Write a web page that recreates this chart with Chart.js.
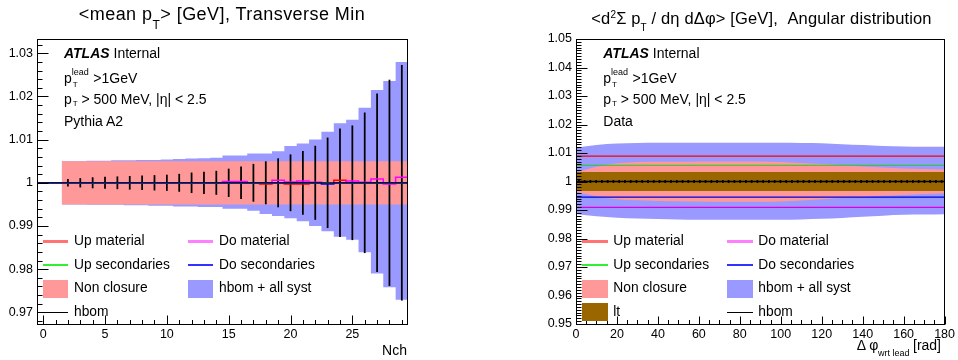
<!DOCTYPE html>
<html>
<head>
<meta charset="utf-8">
<script src="https://cdn.jsdelivr.net/npm/chart.js@4.4.1/dist/chart.umd.min.js"></script>
<style>
  body { margin: 0; background: #fff; }
  #wrap { position: relative; width: 958px; height: 360px; overflow: hidden; background: #fff;
          font-family: 'Liberation Sans', Arial, Helvetica, sans-serif; color: #000; }
  canvas { position: absolute; top: 0; }
  .t { position: absolute; white-space: pre; }
  .sw { position: absolute; }
</style>
</head>
<body>
<div id="wrap">
  <canvas id="c1" width="479" height="360" style="left:0"></canvas>
  <canvas id="c2" width="479" height="360" style="left:479px"></canvas>
</div>
<script>
// ================= DATA: left panel  <mean pT>, Transverse Min (ratio) =================
const nchBins = [0,1,2,3,4,5,6,7,8,9,10,11,12,13,14,15,16,17,18,19,20,21,22,23,24,25,26,27,28,29];
const hbomL = [1,1,1,1,1,1,1,1,1,1,1,1,1,1,1,1,1,1,1,1,1,1,1,1,1,1,1,1,1,1];
const hbomErrL = [null,null,0.0008,0.0010,0.0012,0.0013,0.0014,0.0015,0.0016,0.0017,0.0018,0.0020,0.0023,0.0025,0.0027,
                  0.0032,0.0037,0.0043,0.0049,0.0056,0.0065,0.0073,0.0085,0.0104,0.0125,0.0132,0.0162,0.0206,0.0238,0.0272];
const allSystHiL = [null,null,1.0050,1.0050,1.0051,1.0051,1.0052,1.0052,1.0053,1.0053,1.0054,1.0055,1.0056,1.0057,1.0058,
                    1.0063,1.0063,1.0068,1.0068,1.0073,1.0085,1.0091,1.0100,1.0118,1.0138,1.0146,1.0174,1.0215,1.0236,1.0280];
const allSystLoL = [null,null,0.9950,0.9950,0.9949,0.9949,0.9949,0.9948,0.9948,0.9947,0.9947,0.9945,0.9945,0.9944,0.9944,
                    0.9940,0.9940,0.9935,0.9928,0.9923,0.9918,0.9911,0.9900,0.9888,0.9875,0.9868,0.9839,0.9790,0.9758,0.9729];
const nonClosureHiL = [null,null,1.005,1.005,1.005,1.005,1.005,1.005,1.005,1.005,1.005,1.005,1.005,1.005,1.005,
                       1.005,1.005,1.005,1.005,1.005,1.005,1.005,1.005,1.005,1.005,1.005,1.005,1.005,1.005,1.005];
const nonClosureLoL = [null,null,0.995,0.995,0.995,0.995,0.995,0.995,0.995,0.995,0.995,0.995,0.995,0.995,0.995,
                       0.995,0.995,0.995,0.995,0.995,0.995,0.995,0.995,0.995,0.995,0.995,0.995,0.995,0.995,0.995];
const upMaterialL = [1,1,1,1,1,1,1,1,1,1,1,1,1,1,1,1,1,1,0.9997,1,0.9997,0.9997,1,1,1.0006,1,1,1,1,1];
const doMaterialL = [1,1,1,1,1,1,1,1,1,1,1,1,1,1,1,1.0003,1.0003,1,1,1.0006,1.0002,1.0004,1.0001,1,1,1.0004,1.0001,1.0009,0.9997,1.0013];
const upSecondariesL = [1,1,1,1,1,1,1,1,1,1,1,1,1,1,1,1,1,1,1,1,1,1,1,1,1,1,1,1,1,1];
const doSecondariesL = [1,1,1,1,1,1,1,1,1,1,1,1,1,1,1,1,1,1,1,1,1,1,1,0.9997,1,1,1,1,1,1];
const xTicksL = [0,5,10,15,20,25];
const yTicksL = [0.97,0.98,0.99,1.00,1.01,1.02,1.03];

// ================= DATA: right panel  <d2 Sum pT / deta dDphi>, angular distribution =================
const dphiGrid = [0,10,20,30,40,50,60,70,80,90,100,110,120,130,140,150,160,170,180];
const allSystHiR = [1.0118,1.0128,1.0133,1.0135,1.0136,1.0136,1.0136,1.0136,1.0136,1.0136,1.0136,1.0135,1.0134,1.0131,1.0128,1.0125,1.0123,1.0122,1.0122];
const allSystLoR = [0.9886,0.9878,0.9873,0.9870,0.9868,0.9867,0.9866,0.9866,0.9866,0.9866,0.9866,0.9867,0.9869,0.9872,0.9876,0.9880,0.9883,0.9884,0.9885];
const nonClosureHiR = [1.0032,1.0052,1.0064,1.0068,1.0069,1.0069,1.0070,1.0070,1.0070,1.0070,1.0068,1.0065,1.0061,1.0057,1.0053,1.0049,1.0046,1.0044,1.0042];
const nonClosureLoR = [0.9964,0.9948,0.9938,0.9934,0.9932,0.9931,0.9930,0.9929,0.9929,0.9929,0.9930,0.9933,0.9938,0.9942,0.9946,0.9950,0.9953,0.9956,0.9959];
const ltHiR = [1.0033,1.0033,1.0033,1.0033,1.0033,1.0033,1.0033,1.0033,1.0033,1.0033,1.0033,1.0033,1.0033,1.0033,1.0033,1.0033,1.0033,1.0033,1.0033];
const ltLoR = [0.9967,0.9967,0.9967,0.9967,0.9967,0.9967,0.9967,0.9967,0.9967,0.9967,0.9967,0.9967,0.9967,0.9967,0.9967,0.9967,0.9967,0.9967,0.9967];
const upMaterialR = [1.0089,1.0089,1.0089,1.0089,1.0089,1.0089,1.0089,1.0089,1.0089,1.0089,1.0089,1.0089,1.0089,1.0089,1.0089,1.0089,1.0089,1.0089,1.0089];
const upSecondariesR = [1.0057,1.0057,1.0057,1.0057,1.0057,1.0057,1.0057,1.0057,1.0057,1.0057,1.0057,1.0057,1.0057,1.0057,1.0057,1.0057,1.0057,1.0057,1.0057];
const doSecondariesR = [0.9945,0.9945,0.9945,0.9945,0.9945,0.9945,0.9945,0.9945,0.9945,0.9945,0.9945,0.9945,0.9945,0.9945,0.9945,0.9945,0.9945,0.9945,0.9945];
const doMaterialR = [0.9909,0.9909,0.9909,0.9909,0.9909,0.9909,0.9909,0.9909,0.9909,0.9909,0.9909,0.9909,0.9909,0.9909,0.9909,0.9909,0.9909,0.9909,0.9909];
const dphiBinWidth = 2.8125;
const hbomR = [1,1,1,1,1,1,1,1,1,1,1,1,1,1,1,1,1,1,1,1,1,1,1,1,1,1,1,1,1,1,1,1,
               1,1,1,1,1,1,1,1,1,1,1,1,1,1,1,1,1,1,1,1,1,1,1,1,1,1,1,1,1,1,1,1];
const hbomErrR = [0.0004,0.0004,0.0004,0.0004,0.0004,0.0004,0.0004,0.0004,0.0004,0.0004,0.0004,0.0004,0.0004,0.0004,0.0004,0.0004,
                  0.0004,0.0004,0.0004,0.0004,0.0004,0.0004,0.0004,0.0004,0.0004,0.0004,0.0004,0.0004,0.0004,0.0004,0.0004,0.0004,
                  0.0004,0.0004,0.0004,0.0004,0.0004,0.0004,0.0004,0.0004,0.0004,0.0004,0.0004,0.0004,0.0004,0.0004,0.0004,0.0004,
                  0.0004,0.0004,0.0004,0.0004,0.0004,0.0004,0.0004,0.0004,0.0004,0.0004,0.0004,0.0004,0.0004,0.0004,0.0004,0.0004];
const xTicksR = [0,20,40,60,80,100,120,140,160,180];
const yTicksR = [0.95,0.96,0.97,0.98,0.99,1.00,1.01,1.02,1.03,1.04,1.05];

// ================= helpers =================
Chart.defaults.font.family = "'Liberation Sans', Arial, Helvetica, sans-serif";
Chart.defaults.color = '#000';

function histPts(centers, vals, w) {
  const out = []; let last = null;
  centers.forEach((c, i) => {
    if (vals[i] == null) return;
    out.push({x: c - w / 2, y: vals[i]});
    last = {x: c + w / 2, y: vals[i]};
  });
  if (last) out.push(last);
  return out;
}
function pts(xs, vals) { return xs.map((x, i) => ({x: x, y: vals[i]})); }
function errBars(centers, vals, errs) {
  const out = [];
  centers.forEach((c, i) => { if (errs[i] != null) out.push({x: c, y: [vals[i] - errs[i], vals[i] + errs[i]]}); });
  return out;
}
const fmt = v => String(+Number(v).toFixed(3));

// ROOT-like frame and inward ticks
const rootAxes = {
  id: 'rootAxes',
  afterDraw(chart, args, o) {
    const {ctx, chartArea: a} = chart;
    const xs = chart.scales.x, ys = chart.scales.y;
    const L = Math.round(a.left) + 0.5, R = Math.round(a.right) - 0.5;
    const T = Math.round(a.top) + 0.5, B = Math.round(a.bottom) + 0.5;
    ctx.save();
    ctx.strokeStyle = '#000';
    ctx.lineWidth = 1;
    ctx.beginPath();
    for (let k = Math.ceil(ys.min / o.yMinor - 1e-6); k * o.yMinor <= ys.max + 1e-9; k++) {
      const py = Math.round(ys.getPixelForValue(k * o.yMinor)) + 0.5;
      const len = (k % o.yRatio === 0) ? o.yMajLen : o.yMinLen;
      ctx.moveTo(L, py); ctx.lineTo(L + len, py);
    }
    for (let k = Math.ceil(xs.min / o.xMinor - 1e-6); k * o.xMinor <= xs.max + 1e-9; k++) {
      const px = Math.round(xs.getPixelForValue(k * o.xMinor)) + 0.5;
      const len = (k % o.xRatio === 0) ? o.xMajLen : o.xMinLen;
      ctx.moveTo(px, B); ctx.lineTo(px, B - len);
    }
    ctx.stroke();
    ctx.strokeRect(L, T, R - L, B - T);
    ctx.restore();
  }
};

function makeScales(xmin, xmax, ymin, ymax, xTicks, yTicks, yWidth) {
  return {
    x: {
      type: 'linear', min: xmin, max: xmax, offset: false,
      grid: {display: false, drawTicks: false}, border: {display: false},
      ticks: {autoSkip: false, padding: 3, font: {size: 12.5}, callback: fmt, maxRotation: 0},
      afterBuildTicks: s => { s.ticks = xTicks.map(v => ({value: v})); },
      afterFit: s => { s.height = 36; }
    },
    y: {
      type: 'linear', min: ymin, max: ymax,
      grid: {display: false, drawTicks: false}, border: {display: false},
      ticks: {autoSkip: false, padding: 4, font: {size: 12.5}, callback: fmt},
      afterBuildTicks: s => { s.ticks = yTicks.map(v => ({value: v})); },
      afterFit: s => { s.width = yWidth; }
    }
  };
}
const common = {
  responsive: false, animation: false, devicePixelRatio: 1,
  plugins: {legend: {display: false}, tooltip: {enabled: false}, title: {display: false}},
  elements: {point: {radius: 0}}
};
const band = {type: 'line', pointRadius: 0, borderWidth: 0, fill: false};

// ================= left chart =================
new Chart(document.getElementById('c1'), {
  type: 'line',
  data: {
    datasets: [
      {...band, label: 'all syst low', data: histPts(nchBins, allSystLoL, 1), stepped: true, order: 20},
      {...band, label: 'hbom + all syst', data: histPts(nchBins, allSystHiL, 1), stepped: true, fill: '-1', backgroundColor: '#9999ff', order: 19},
      {...band, label: 'non closure low', data: histPts(nchBins, nonClosureLoL, 1), stepped: true, order: 18},
      {...band, label: 'Non closure', data: histPts(nchBins, nonClosureHiL, 1), stepped: true, fill: '-1', backgroundColor: '#ff9999', order: 17},
      {type: 'bar', label: 'hbom error', data: errBars(nchBins, hbomL, hbomErrL), backgroundColor: '#000000', borderWidth: 0, barThickness: 1.1, grouped: false, order: 16},
      {type: 'line', label: 'Up material', data: histPts(nchBins, upMaterialL, 1), stepped: true, borderColor: '#ff0000', borderWidth: 1.5, pointRadius: 0, order: 6},
      {type: 'line', label: 'Do material', data: histPts(nchBins, doMaterialL, 1), stepped: true, borderColor: '#ff00ff', borderWidth: 1.5, pointRadius: 0, order: 5},
      {type: 'line', label: 'Up secondaries', data: histPts(nchBins, upSecondariesL, 1), stepped: true, borderColor: '#00dd00', borderWidth: 1.2, pointRadius: 0, order: 4},
      {type: 'line', label: 'Do secondaries', data: histPts(nchBins, doSecondariesL, 1), stepped: true, borderColor: '#0000ff', borderWidth: 1.5, pointRadius: 0, order: 3},
      {type: 'line', label: 'hbom', data: histPts(nchBins, hbomL, 1), stepped: true, borderColor: '#101020', borderWidth: 1.3, pointRadius: 0, order: 1}
    ]
  },
  options: {
    ...common,
    layout: {padding: {left: 0, top: 39, right: 71, bottom: 0}},
    scales: makeScales(-0.5, 29.5, 0.9673, 1.0333, xTicksL, yTicksL, 37),
    plugins: {...common.plugins,
      rootAxes: {yMinor: 0.002, yRatio: 5, yMajLen: 11, yMinLen: 5, xMinor: 1, xRatio: 5, xMajLen: 9, xMinLen: 4.5}}
  },
  plugins: [rootAxes]
});

// ================= right chart =================
const dphiCenters = hbomR.map((v, i) => (i + 0.5) * dphiBinWidth);
const smooth = {tension: 0.4, cubicInterpolationMode: 'monotone'};
new Chart(document.getElementById('c2'), {
  type: 'line',
  data: {
    datasets: [
      {...band, ...smooth, label: 'all syst low', data: pts(dphiGrid, allSystLoR), order: 30},
      {...band, ...smooth, label: 'hbom + all syst', data: pts(dphiGrid, allSystHiR), fill: '-1', backgroundColor: '#9999ff', order: 29},
      {...band, ...smooth, label: 'non closure low', data: pts(dphiGrid, nonClosureLoR), order: 28},
      {...band, ...smooth, label: 'Non closure', data: pts(dphiGrid, nonClosureHiR), fill: '-1', backgroundColor: '#ff9999', order: 27},
      {...band, label: 'lt low', data: pts(dphiGrid, ltLoR), order: 26},
      {...band, label: 'lt', data: pts(dphiGrid, ltHiR), fill: '-1', backgroundColor: '#996600', order: 25},
      {type: 'line', label: 'Up material', data: pts(dphiGrid, upMaterialR), borderColor: '#ff0000', borderWidth: 1.3, pointRadius: 0, order: 8},
      {type: 'line', label: 'Up secondaries', data: pts(dphiGrid, upSecondariesR), borderColor: '#22cc22', borderWidth: 1.1, pointRadius: 0, order: 7},
      {type: 'line', label: 'Do secondaries', data: pts(dphiGrid, doSecondariesR), borderColor: '#0000dd', borderWidth: 1.3, pointRadius: 0, order: 6},
      {type: 'line', label: 'Do material', data: pts(dphiGrid, doMaterialR), borderColor: '#dd00dd', borderWidth: 1.3, pointRadius: 0, order: 5},
      {type: 'line', label: 'hbom', data: histPts(dphiCenters, hbomR, dphiBinWidth), stepped: true, borderColor: '#000000', borderWidth: 1.5, pointRadius: 0, order: 2},
      {type: 'bar', label: 'hbom error', data: errBars(dphiCenters, hbomR, hbomErrR), backgroundColor: '#000000', borderWidth: 0, barThickness: 1, grouped: false, order: 1}
    ]
  },
  options: {
    ...common,
    layout: {padding: {left: 0, top: 39, right: 11, bottom: 0}},
    scales: makeScales(0, 180, 0.95, 1.05, xTicksR, yTicksR, 97),
    plugins: {...common.plugins,
      rootAxes: {yMinor: 0.001, yRatio: 10, yMajLen: 11, yMinLen: 5, xMinor: 5, xRatio: 4, xMajLen: 8, xMinLen: 4.5}}
  },
  plugins: [rootAxes]
});

// ================= text & legends (HTML overlay) =================
const wrap = document.getElementById('wrap');
function txt(html, x, base, fs, o = {}) {
  const d = document.createElement('div');
  d.className = 't';
  d.innerHTML = html;
  d.style.fontSize = fs + 'px';
  d.style.lineHeight = fs + 'px';
  d.style.top = (base - 0.8465 * fs) + 'px';
  if (o.align === 'center') { d.style.left = x + 'px'; d.style.transform = 'translateX(-50%)'; }
  else if (o.align === 'right') { d.style.right = (958 - x) + 'px'; }
  else { d.style.left = x + 'px'; }
  if (o.ls) d.style.letterSpacing = o.ls;
  wrap.appendChild(d);
}
function sw(x, y, w, h, color) {
  const d = document.createElement('div');
  d.className = 'sw';
  d.style.left = x + 'px'; d.style.top = y + 'px';
  d.style.width = w + 'px'; d.style.height = h + 'px';
  d.style.background = color;
  wrap.appendChild(d);
}

// titles
txt('&lt;mean p<span style="position:relative;top:8.4px;font-size:12px">T</span>&gt; [GeV], Transverse Min', 222, 20.7, 18, {align: 'center', ls: '0.45px'});
txt('&lt;d<span style="position:relative;top:-6px;font-size:10px">2</span>Σ p<span style="position:relative;top:7px;font-size:10px">T</span> / dη dΔφ&gt; [GeV],  Angular distribution', 761.5, 24, 16.5, {align: 'center', ls: '0.15px'});

// ATLAS labels
function atlasBlock(x0, lastLine) {
  txt('<b><i>ATLAS</i></b> Internal', x0, 58.3, 14);
  txt('p', x0, 83.3, 14);
  txt('lead', x0 + 7.7, 76, 9);
  txt('T', x0 + 8.7, 87.3, 8);
  txt('&gt;1GeV', x0 + 29.3, 83.3, 14);
  txt('p', x0, 103.7, 14);
  txt('T', x0 + 8.7, 106.7, 8);
  txt('&gt; 500 MeV, |η| &lt; 2.5', x0 + 17.5, 103.7, 14);
  txt(lastLine, x0, 126, 14);
}
atlasBlock(64, 'Pythia A2');
atlasBlock(603.3, 'Data');

// axis titles
txt('Nch', 407, 355, 14, {align: 'right'});
txt('Δ φ', 856.7, 350, 14);
txt('wrt lead', 878, 356.2, 9);
txt('[rad]', 913, 350, 14);

// legends
const rowsBase = [245.6, 269.8, 293.1, 316.8];
function legend(c1sw, c1tx, c2sw, c2tx, w, withLt) {
  const fs = 13.8;
  sw(c1sw, 239.5, w, 3, '#ff7373');      txt('Up material', c1tx, rowsBase[0], fs);
  sw(c2sw, 239.5, w, 3, '#ff80ff');      txt('Do material', c2tx, rowsBase[0], fs);
  sw(c1sw, 264, w, 2, '#33ee33');        txt('Up secondaries', c1tx, rowsBase[1], fs);
  sw(c2sw, 264, w, 2, '#3333ff');        txt('Do secondaries', c2tx, rowsBase[1], fs);
  sw(c1sw, 280, w, 17.5, '#ff9999');     txt('Non closure', c1tx, rowsBase[2], fs);
  sw(c2sw, 279.5, w, 18, '#9999ff');     txt('hbom + all syst', c2tx, rowsBase[2], fs);
  if (withLt) {
    sw(c1sw, 303.3, w, 17.5, '#996600'); txt('lt', c1tx, rowsBase[3], fs);
    sw(c2sw, 311.5, w, 1.2, '#000');     txt('hbom', c2tx, rowsBase[3], fs);
  } else {
    sw(c1sw, 311.5, w, 1.2, '#000');     txt('hbom', c1tx, rowsBase[3], fs);
  }
}
legend(43.3, 74, 188.3, 219, 25, false);
legend(581.7, 613.3, 726.7, 758.3, 26.7, true);
</script>
</body>
</html>
